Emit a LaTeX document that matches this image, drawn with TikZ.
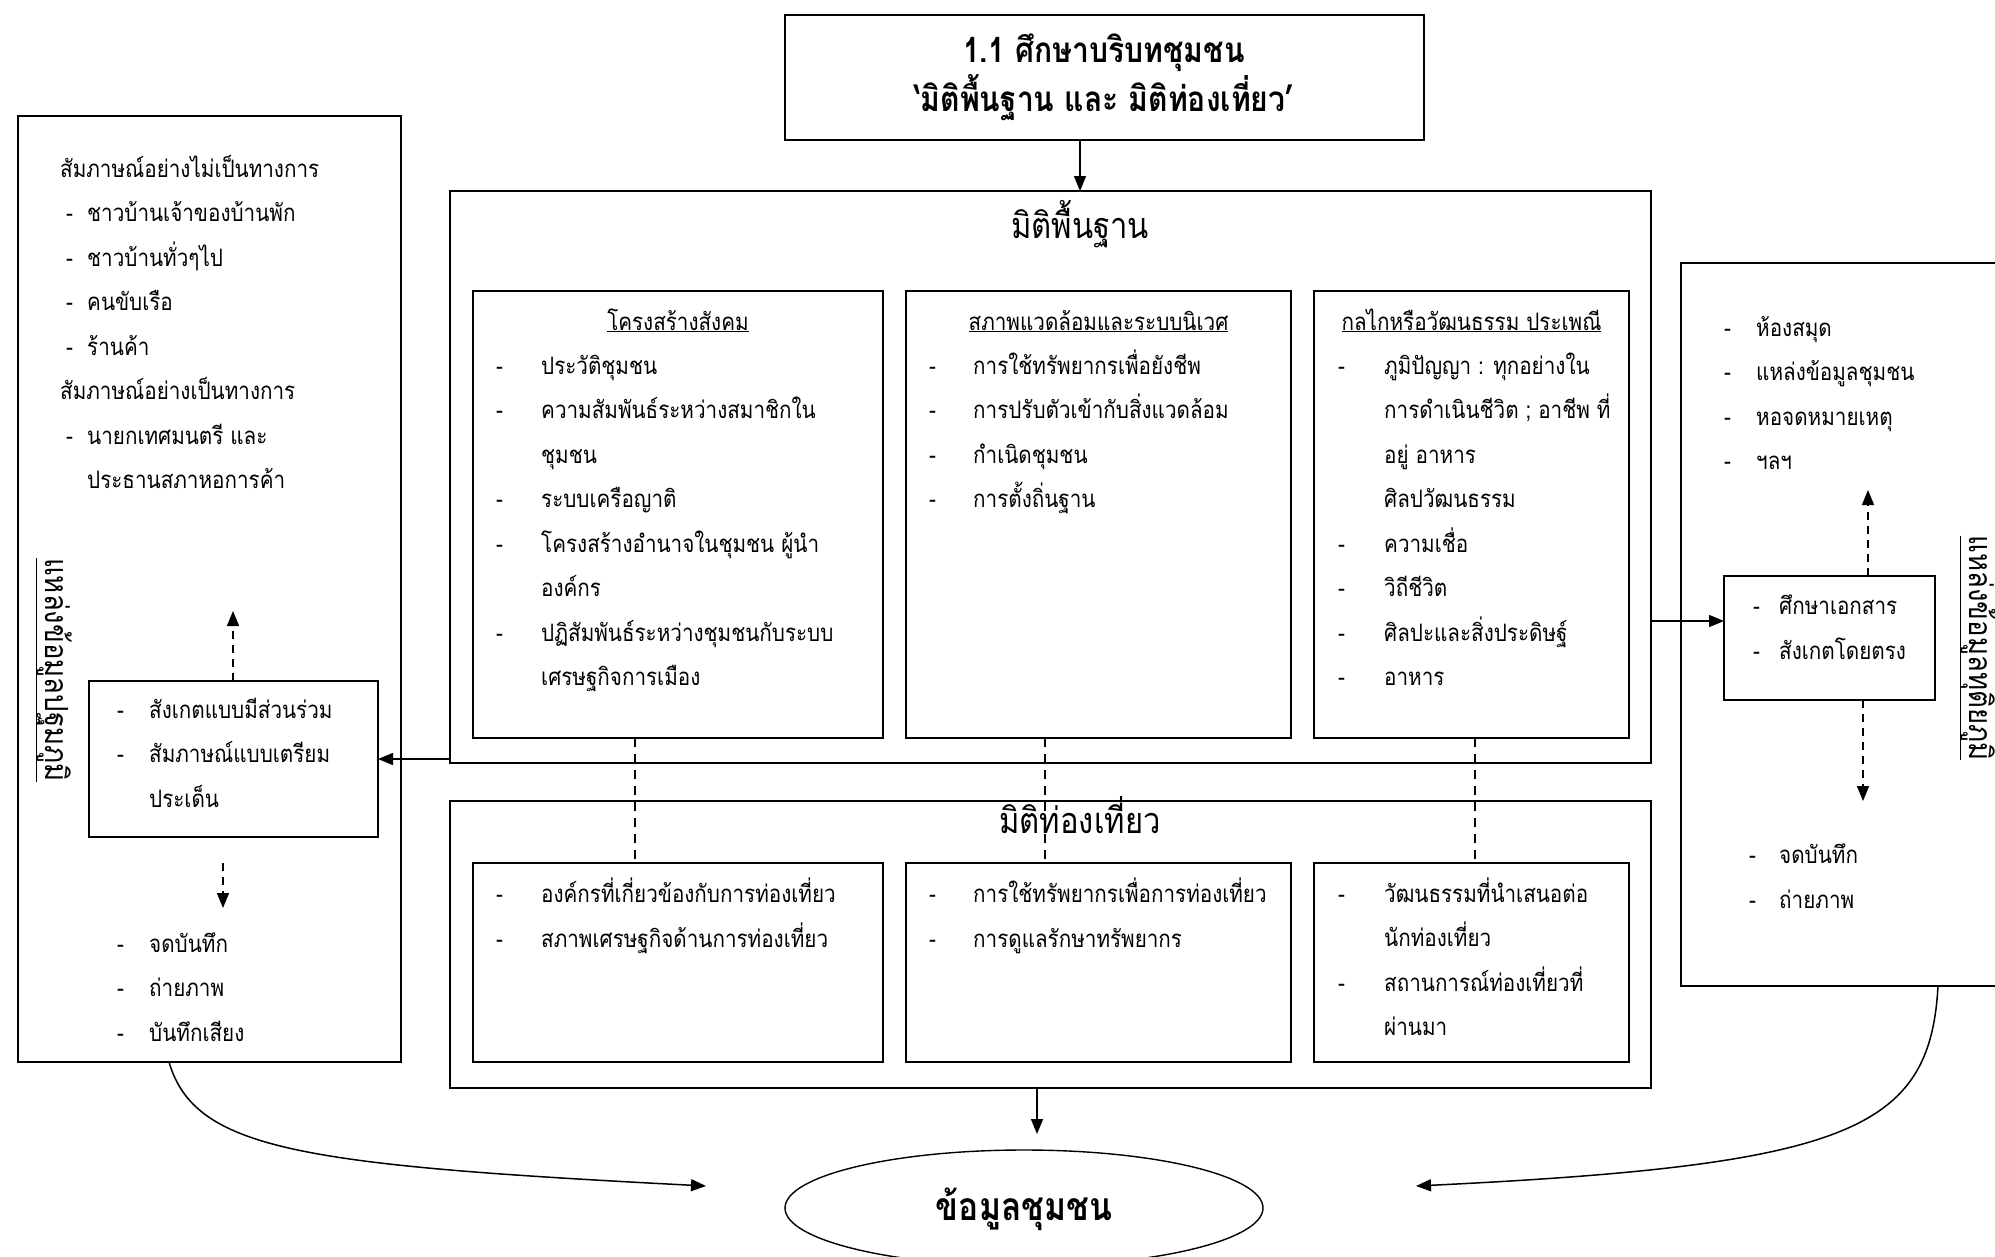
\documentclass[tikz,border=0pt]{standalone}
\usepackage{fontspec}
\newfontfamily\thai[Script=Thai,FakeStretch=0.86]{Loma}
\usetikzlibrary{arrows.meta,shapes.geometric}
\tikzset{
  box/.style={draw, line width=1.6pt, inner sep=0pt, outer sep=0pt},
  tx/.style={anchor=mid west, inner sep=0pt, yshift=-6pt, font=\thai\fontsize{24}{28}\selectfont},
  hd/.style={anchor=mid, inner sep=0pt, yshift=-6pt, font=\thai\fontsize{24}{28}\selectfont},
  vt/.style={anchor=mid, inner sep=0pt, rotate=-90, font=\thai\fontsize{32}{36}\selectfont},
  big/.style={anchor=mid, inner sep=0pt, yshift=-7pt, font=\thai\fontsize{36}{40}\selectfont},
  ttl/.style={anchor=mid, inner sep=0pt, yshift=-7pt, font=\thai\bfseries\fontsize{35}{38}\selectfont},
  ttlb/.style={anchor=mid, inner sep=0pt, yshift=-7pt, font=\thai\bfseries\fontsize{39}{42}\selectfont},
  arr/.style={line width=1.5pt, -{Triangle[length=15pt,width=12pt]}},
  darr/.style={line width=1.5pt, dash pattern=on 8pt off 6pt, -{Triangle[length=15pt,width=12pt]}},
  dline/.style={line width=1.3pt, dash pattern=on 9pt off 7pt},
}
\newcommand\dtx[6]{\node[#6] (#1d) at (#2,#4) {-}; \node[#6] (#1) at (#3,#4) {#5};}
\begin{document}
\begin{tikzpicture}[x=1pt,y=-1pt]
\useasboundingbox (0,0) rectangle (1995,1256);
% ---------- top box
\node[box, minimum width=639pt, minimum height=125pt] (T) at (1104.5,77.5) {};
\node[ttl] (T1) at (1104,53) {1.1 ศึกษาบริบทชุมชน};
\node[ttl] (T2) at (1104,102) {‘มิติพื้นฐาน และ มิติท่องเที่ยว’};
\coordinate (tc) at (1080,0);
% ---------- main box 1
\node[box, minimum width=1201pt, minimum height=572pt] (M1) at (1050.5,477) {};
\node[big] (M1t) at (1080,229) {มิติพื้นฐาน};
\node[box, minimum width=410pt, minimum height=447pt] (A1) at (678,514.5) {};
\node[box, minimum width=385pt, minimum height=447pt] (B1) at (1098.5,514.5) {};
\node[box, minimum width=315pt, minimum height=447pt] (C1) at (1471.5,514.5) {};
\node[hd] (A1h) at (678,322) {\underline{โครงสร้างสังคม}};
\node[hd] (B1h) at (1098.5,322) {\underline{สภาพแวดล้อมและระบบนิเวศ}};
\node[hd] (C1h) at (1471.5,322) {\underline{กลไกหรือวัฒนธรรม ประเพณี}};
% column A1
\dtx{a1}{496}{541}{366}{ประวัติชุมชน}{tx}
\dtx{a2}{496}{541}{410.5}{ความสัมพันธ์ระหว่างสมาชิกใน}{tx}
\node[tx] (a3) at (541,455) {ชุมชน};
\dtx{a4}{496}{541}{499.5}{ระบบเครือญาติ}{tx}
\dtx{a5}{496}{541}{544}{โครงสร้างอำนาจในชุมชน ผู้นำ}{tx}
\node[tx] (a6) at (541,588.5) {องค์กร};
\dtx{a7}{496}{541}{633}{ปฏิสัมพันธ์ระหว่างชุมชนกับระบบ}{tx}
\node[tx] (a8) at (541,677.5) {เศรษฐกิจการเมือง};
% column B1
\dtx{b1}{929}{973}{366}{การใช้ทรัพยากรเพื่อยังชีพ}{tx}
\dtx{b2}{929}{973}{410.5}{การปรับตัวเข้ากับสิ่งแวดล้อม}{tx}
\dtx{b3}{929}{973}{455}{กำเนิดชุมชน}{tx}
\dtx{b4}{929}{973}{499.5}{การตั้งถิ่นฐาน}{tx}
% column C1
\dtx{c1}{1338}{1384}{366}{ภูมิปัญญา : ทุกอย่างใน}{tx}
\node[tx] (c2) at (1384,410.5) {การดำเนินชีวิต ; อาชีพ ที่};
\node[tx] (c3) at (1384,455) {อยู่ อาหาร};
\node[tx] (c4) at (1384,499.5) {ศิลปวัฒนธรรม};
\dtx{c5}{1338}{1384}{544}{ความเชื่อ}{tx}
\dtx{c6}{1338}{1384}{588.5}{วิถีชีวิต}{tx}
\dtx{c7}{1338}{1384}{633}{ศิลปะและสิ่งประดิษฐ์}{tx}
\dtx{c8}{1338}{1384}{677.5}{อาหาร}{tx}
% ---------- main box 2
\node[box, minimum width=1201pt, minimum height=287pt] (M2) at (1050.5,944.5) {};
\node[big] (M2t) at (1080,824) {มิติท่องเที่ยว};
\node[box, minimum width=410pt, minimum height=199pt] (A2) at (678,962.5) {};
\node[box, minimum width=385pt, minimum height=199pt] (B2) at (1098.5,962.5) {};
\node[box, minimum width=315pt, minimum height=199pt] (C2) at (1471.5,962.5) {};
\dtx{p1}{496}{541}{894}{องค์กรที่เกี่ยวข้องกับการท่องเที่ยว}{tx}
\dtx{p2}{496}{541}{939}{สภาพเศรษฐกิจด้านการท่องเที่ยว}{tx}
\dtx{q1}{929}{973}{894}{การใช้ทรัพยากรเพื่อการท่องเที่ยว}{tx}
\dtx{q2}{929}{973}{939}{การดูแลรักษาทรัพยากร}{tx}
\dtx{r1}{1338}{1384}{894}{วัฒนธรรมที่นำเสนอต่อ}{tx}
\node[tx] (r2) at (1384,938.5) {นักท่องเที่ยว};
\dtx{r3}{1338}{1384}{983}{สถานการณ์ท่องเที่ยวที่}{tx}
\node[tx] (r4) at (1384,1027.5) {ผ่านมา};
% dashed links
\coordinate (d1) at (635,0);
\coordinate (d2) at (1045,0);
\coordinate (d3) at (1475,0);
\draw[dline] (A1.south -| d1) -- (A2.north -| d1);
\draw[dline] (B1.south -| d2) -- (B2.north -| d2);
\draw[dline] (C1.south -| d3) -- (C2.north -| d3);
% ---------- left box
\node[box, minimum width=383pt, minimum height=946pt] (L) at (209.5,589) {};
\node[tx] (l0) at (60,169) {สัมภาษณ์อย่างไม่เป็นทางการ};
\dtx{l1}{66}{87}{213.5}{ชาวบ้านเจ้าของบ้านพัก}{tx}
\dtx{l2}{66}{87}{258}{ชาวบ้านทั่วๆไป}{tx}
\dtx{l3}{66}{87}{302.5}{คนขับเรือ}{tx}
\dtx{l4}{66}{87}{347}{ร้านค้า}{tx}
\node[tx] (l5) at (60,391.5) {สัมภาษณ์อย่างเป็นทางการ};
\dtx{l6}{66}{87}{436}{นายกเทศมนตรี และ}{tx}
\node[tx] (l7) at (87,480.5) {ประธานสภาหอการค้า};
\node[vt] (Lv) at (48,670) {\underline{แหล่งข้อมูลปฐมภูมิ}};
\node[box, minimum width=289pt, minimum height=156pt] (LS) at (233.5,759) {};
\dtx{s1}{117}{149}{710}{สังเกตแบบมีส่วนร่วม}{tx}
\dtx{s2}{117}{149}{754.5}{สัมภาษณ์แบบเตรียม}{tx}
\node[tx] (s3) at (149,799) {ประเด็น};
\coordinate (lu) at (233,611);
\draw[darr] (LS.north -| lu) -- (lu);
\coordinate (ld1) at (223,863);
\coordinate (ld2) at (223,908);
\draw[darr] (ld1) -- (ld2);
\dtx{u1}{117}{149}{944}{จดบันทึก}{tx}
\dtx{u2}{117}{149}{988.5}{ถ่ายภาพ}{tx}
\dtx{u3}{117}{149}{1033}{บันทึกเสียง}{tx}
\draw[arr] (M1.west |- LS.east) -- (LS.east);
% ---------- right box
\node[box, minimum width=340pt, minimum height=723pt] (R) at (1851,624.5) {};
\dtx{v1}{1724}{1756}{328}{ห้องสมุด}{tx}
\dtx{v2}{1724}{1756}{372.5}{แหล่งข้อมูลชุมชน}{tx}
\dtx{v3}{1724}{1756}{417}{หอจดหมายเหตุ}{tx}
\dtx{v4}{1724}{1756}{461.5}{ฯลฯ}{tx}
\node[box, minimum width=211pt, minimum height=124pt] (RS) at (1829.5,638) {};
\dtx{w1}{1753}{1779}{606}{ศึกษาเอกสาร}{tx}
\dtx{w2}{1753}{1779}{651}{สังเกตโดยตรง}{tx}
\coordinate (ru) at (1868,490);
\draw[darr] (RS.north -| ru) -- (ru);
\coordinate (rd) at (1863,801);
\draw[darr] (RS.south -| rd) -- (rd);
\dtx{x1}{1749}{1779}{855}{จดบันทึก}{tx}
\dtx{x2}{1749}{1779}{900}{ถ่ายภาพ}{tx}
\node[vt] (Rv) at (1972,648) {\underline{แหล่งข้อมูลทุติยภูมิ}};
\coordinate (ry) at (0,621);
\draw[arr] (M1.east |- ry) -- (RS.west |- ry);
% ---------- top / bottom arrows
\draw[arr] (T.south -| tc) -- (M1.north -| tc);
\node[draw, ellipse, line width=1.4pt, minimum width=478pt, minimum height=116pt, inner sep=0pt] (E) at (1024,1208) {};
\node[ttlb] (Et) at (1024,1211) {ข้อมูลชุมชน};
\coordinate (bc) at (1037,0);
\coordinate (be) at (1037,1134);
\draw[arr] (M2.south -| bc) -- (be);
% curves
\coordinate (cl) at (169,0);
\coordinate (cle) at (706,1186);
\draw[arr] (L.south -| cl) .. controls (195,1150) and (300,1165) .. (cle);
\coordinate (cr) at (1938,0);
\coordinate (cre) at (1416,1186);
\draw[arr] (R.south -| cr) .. controls (1930,1130) and (1850,1165) .. (cre);
\end{tikzpicture}
\end{document}
